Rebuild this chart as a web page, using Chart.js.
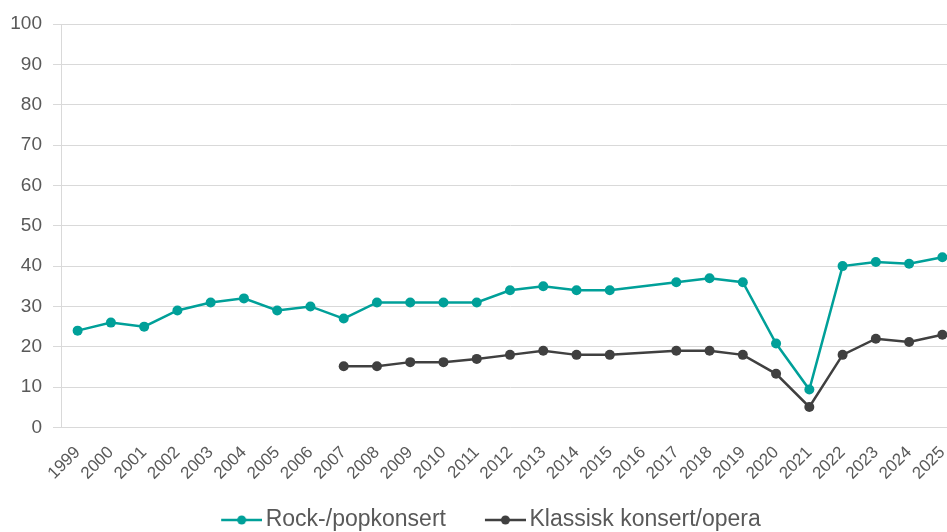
<!DOCTYPE html>
<html>
<head>
<meta charset="utf-8">
<script src="https://cdn.jsdelivr.net/npm/chart.js@4/dist/chart.umd.min.js"></script>
<style>
  html, body { margin: 0; padding: 0; background: #ffffff; overflow: hidden; }
  #wrap { width: 964px; height: 532px; }
</style>
</head>
<body>
<div id="wrap"><canvas id="c" width="964" height="532"></canvas></div>
<script>
const years = ['1999','2000','2001','2002','2003','2004','2005','2006','2007','2008','2009','2010','2011','2012','2013','2014','2015','2016','2017','2018','2019','2020','2021','2022','2023','2024','2025'];
const rockPop = [24, 26, 25, 29, 31, 32, 29, 30, 27, 31, 31, 31, 31, 34, 35, 34, 34, null, 36, 37, 36, 20.8, 9.4, 40, 41, 40.6, 42.2];
const klassisk = [null, null, null, null, null, null, null, null, 15.2, 15.2, 16.2, 16.2, 17, 18, 19, 18, 18, null, 19, 19, 18, 13.3, 5.1, 18, 22, 21.2, 23];
const seriesNames = ['Rock-/popkonsert', 'Klassisk konsert/opera'];
const yTicks = [0, 10, 20, 30, 40, 50, 60, 70, 80, 90, 100];

const teal = '#00A099';
const dark = '#404040';
const textCol = '#595959';
const gridCol = '#D9D9D9';
const fontFam = '"Liberation Sans", Arial, sans-serif';

function legendMarker(color) {
  const cv = document.createElement('canvas');
  cv.width = 78; cv.height = 12;
  const g = cv.getContext('2d');
  g.strokeStyle = color; g.lineWidth = 2.5;
  g.beginPath(); g.moveTo(37, 6); g.lineTo(78, 6); g.stroke();
  g.fillStyle = color;
  g.beginPath(); g.arc(57.5, 6, 4.5, 0, Math.PI * 2); g.fill();
  return cv;
}

const legendShift = {
  id: 'legendShift',
  afterLayout(chart) {
    const lg = chart.legend;
    if (lg) { lg.left -= 5.5; lg.right -= 5.5; lg.top += 9.5; lg.bottom += 9.5; }
  }
};

const ctx = document.getElementById('c').getContext('2d');
new Chart(ctx, {
  type: 'line',
  data: {
    labels: years,
    datasets: [
      {
        label: seriesNames[0], data: rockPop,
        borderColor: teal, backgroundColor: teal, borderWidth: 2.5,
        pointRadius: 5, pointHoverRadius: 5, pointBackgroundColor: teal, pointBorderColor: teal, pointBorderWidth: 0,
        tension: 0, spanGaps: true, pointStyle: 'circle'
      },
      {
        label: seriesNames[1], data: klassisk,
        borderColor: dark, backgroundColor: dark, borderWidth: 2.5,
        pointRadius: 5, pointHoverRadius: 5, pointBackgroundColor: dark, pointBorderColor: dark, pointBorderWidth: 0,
        tension: 0, spanGaps: true, pointStyle: 'circle'
      }
    ]
  },
  options: {
    responsive: false,
    animation: false,
    devicePixelRatio: 1,
    layout: { padding: { top: 24, left: 0, right: 0, bottom: 0 } },
    plugins: {
      tooltip: { enabled: false },
      legend: {
        position: 'bottom',
        labels: {
          color: textCol,
          font: { family: fontFam, size: 23 },
          usePointStyle: true,
          pointStyleWidth: 62,
          padding: 10,
          generateLabels(chart) {
            return chart.data.datasets.map((ds, i) => ({
              text: ds.label,
              fillStyle: ds.borderColor,
              strokeStyle: ds.borderColor,
              fontColor: textCol,
              lineWidth: 0,
              pointStyle: legendMarker(ds.borderColor),
              hidden: false,
              datasetIndex: i
            }));
          }
        }
      }
    },
    scales: {
      x: {
        offset: true,
        grid: { display: false, drawTicks: false },
        border: { display: true, color: gridCol, width: 1 },
        ticks: {
          color: textCol,
          font: { family: fontFam, size: 17 },
          minRotation: 45, maxRotation: 45, autoSkip: false, padding: 15
        },
        afterFit(scale) { scale.height = 61.5; scale.paddingRight = 0; }
      },
      y: {
        min: 0, max: 100,
        afterBuildTicks(scale) { scale.ticks = yTicks.map(v => ({ value: v })); },
        grid: { color: gridCol, lineWidth: 1, tickLength: 8, drawTicks: true },
        border: { display: true, color: gridCol, width: 1 },
        ticks: {
          color: textCol,
          font: { family: fontFam, size: 19 },
          padding: 11
        },
        afterFit(scale) { scale.width = 61; }
      }
    }
  },
  plugins: [legendShift]
});
</script>
</body>
</html>
